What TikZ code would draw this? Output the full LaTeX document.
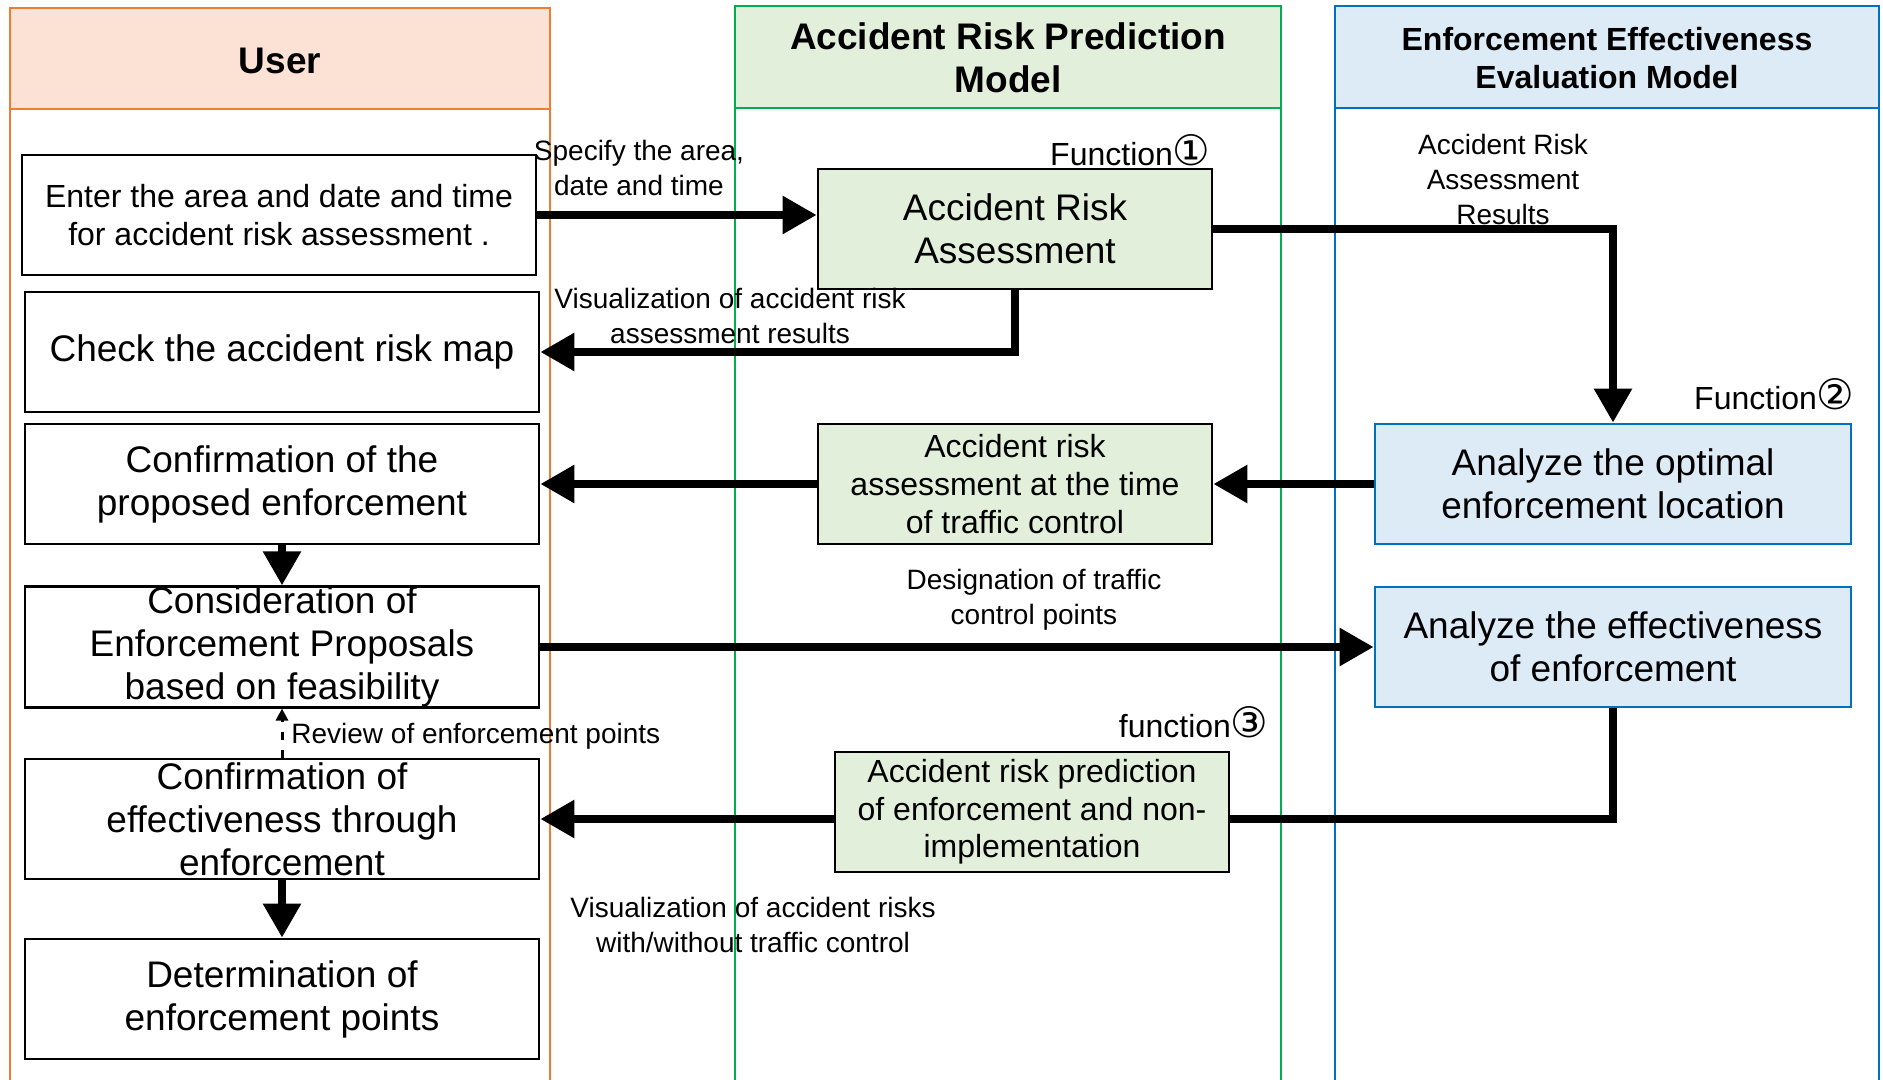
\documentclass[tikz,border=0pt]{standalone}
\usepackage{fontspec}
\setmainfont{Liberation Sans}
\newfontfamily\circfont{DejaVu Sans}
\usetikzlibrary{arrows.meta}

\definecolor{userline}{HTML}{ED7D31}
\definecolor{userfill}{HTML}{FBE2D5}
\definecolor{riskline}{HTML}{00B050}
\definecolor{riskfill}{HTML}{E2EFDA}
\definecolor{evalline}{HTML}{0070C0}
\definecolor{evalfill}{HTML}{DDEBF7}

\newcommand{\circnum}[1]{{\circfont\fontsize{21}{21}\selectfont #1}}

\tikzset{%
  lane/.style={
    line width=1.2pt
  },
  lane head/.style={
    align=center,
    font=\bfseries\fontsize{18.5}{21.5}\selectfont
  },
  user box/.style={
    rectangle,
    draw,
    line width=1.3pt,
    minimum width=257pt,
    minimum height=60pt,
    inner ysep=0pt,
    align=center,
    font=\fontsize{18.5}{21.5}\selectfont
  },
  risk box/.style={
    user box,
    fill=riskfill,
    minimum width=197pt
  },
  eval box/.style={
    user box,
    draw=evalline,
    fill=evalfill,
    minimum width=238pt
  },
  small text/.style={
    font=\fontsize{16}{18.8}\selectfont
  },
  flow label/.style={
    align=center,
    inner sep=0pt,
    font=\fontsize{14}{17.5}\selectfont
  },
  flow/.style={
    line width=4.2pt,
    -{Triangle[length=17pt,width=18pt]}
  },
  review/.style={
    line width=1.5pt,
    dash pattern=on 4pt off 5pt,
    -{Triangle[length=6pt,width=6pt]}
  },
}

\begin{document}
\begin{tikzpicture}[x=0.5pt,y=-0.5pt]
\useasboundingbox (0,0) rectangle (1883,1080);
% swimlanes
\draw[lane, draw=userline, fill=userfill] (10,8) rectangle (550,109);
\draw[lane, draw=userline] (10,109) -- (10,1090) (550,109) -- (550,1090);
\draw[lane, draw=riskline, fill=riskfill] (735,6) rectangle (1281,108);
\draw[lane, draw=riskline] (735,108) -- (735,1090) (1281,108) -- (1281,1090);
\draw[lane, draw=evalline, fill=evalfill] (1335,6) rectangle (1879,108);
\draw[lane, draw=evalline] (1335,108) -- (1335,1090) (1879,108) -- (1879,1090);
\node[lane head] (user) at (280,61) {User};
\node[lane head] (risk) at (1008,58) {Accident Risk Prediction\\Model};
\node[lane head, font=\bfseries\fontsize{16}{19}\selectfont] (eval) at (1607,58) {Enforcement Effectiveness\\Evaluation Model};

% user side
\node[user box, small text] (enter) at (279,215) {Enter the area and date and time\\for accident risk assessment .};
\node[user box] (check) at (282,352) {Check the accident risk map};
\node[user box] (confirm) at (282,484) {Confirmation of the\\proposed enforcement};
\node[user box] (consider) at (282,647) {Consideration of\\Enforcement Proposals\\based on feasibility};
\node[user box] (effect) at (282,819) {Confirmation of\\effectiveness through\\enforcement};
\node[user box] (decide) at (282,999) {Determination of\\enforcement points};

% prediction model
\node[risk box] (assess) at (1015,229) {Accident Risk\\Assessment};
\node[risk box, small text] (control) at (1015,484) {Accident risk\\assessment at the time\\of traffic control};
\node[risk box, small text] (predict) at (1032,812) {Accident risk prediction\\of enforcement and non-\\implementation};

% evaluation model
\node[eval box] (optimal) at (1613,484) {Analyze the optimal\\enforcement location};
\node[eval box] (analyze) at (1613,647) {Analyze the effectiveness\\of enforcement};

\node[small text, anchor=east, inner sep=0pt] (fn1) at (1211,150) {Function\circnum{①}};
\node[small text, anchor=east, inner sep=0pt] (fn2) at (1855,394) {Function\circnum{②}};
\node[small text, anchor=east, inner sep=0pt] (fn3) at (1269,722) {function\circnum{③}};

% connectors
\draw[flow] (enter.east) -- (enter.east -| assess.west);
\draw[flow] (assess.east) -| (optimal.north);
\draw[flow] (assess.south) |- (check.east);
\draw[flow] (optimal.west) -- (control.east);
\draw[flow] (control.west) -- (confirm.east);
\draw[flow] (confirm.south) -- (consider.north);
\draw[flow] (consider.east) -- (analyze.west);
\draw[line width=4.2pt] (analyze.south) |- (predict.east |- effect.east);
\draw[flow] (predict.west |- effect.east) -- (effect.east);
\draw[review] (effect.north) -- (consider.south);
\draw[flow] (effect.south) -- (decide.north);

\node[flow label] (l1) at (639,168) {Specify the area,\\date and time};
\node[flow label] (l2) at (1503,179) {Accident Risk\\Assessment\\Results};
\node[flow label] (l3) at (730,316) {Visualization of accident risk\\assessment results};
\node[flow label] (l4) at (1034,600) {Designation of traffic\\control points};
\node[flow label] (l5) at (753,925) {Visualization of accident risks\\with/without traffic control};
\node[flow label, anchor=west] (l6) at (291,736) {Review of enforcement points};
\end{tikzpicture}
\end{document}
